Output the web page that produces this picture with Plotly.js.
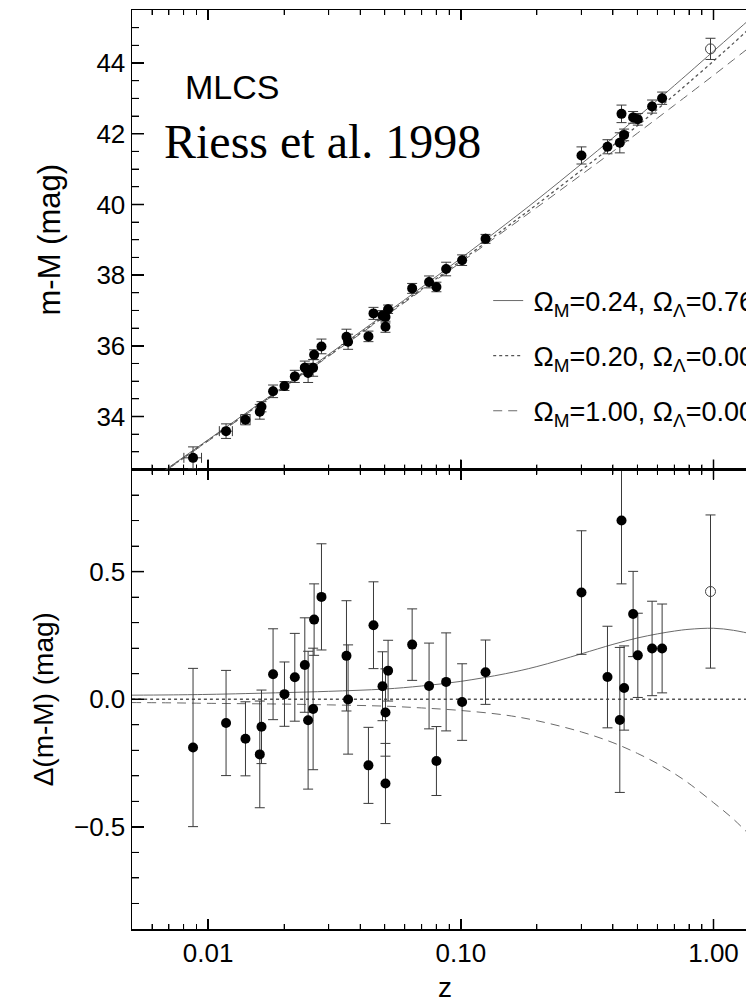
<!DOCTYPE html>
<html>
<head>
<meta charset="utf-8">
<script src="https://cdn.plot.ly/plotly-3.0.1.min.js"></script>
<style>
html,body{margin:0;padding:0;overflow:hidden;background:#fff;}
#chart{width:780px;height:1003px;}
</style>
</head>
<body>
<div id="chart"></div>
<script>
// Supernova data (filled circles)
const z = [0.00872, 0.01178, 0.01406, 0.01602, 0.01627, 0.01808, 0.02006, 0.02204, 0.02414, 0.02488, 0.02604, 0.02628, 0.0281, 0.03529, 0.03581, 0.04311, 0.04514, 0.0490, 0.05035, 0.05035, 0.05156, 0.0642, 0.0749, 0.0801, 0.0875, 0.1012, 0.1253, 0.3003, 0.3806, 0.4258, 0.4325, 0.4429, 0.4807, 0.5018, 0.5715, 0.6261];
const mu = [32.83, 33.585, 33.909, 34.133, 34.275, 34.712, 34.862, 35.134, 35.382, 35.232, 35.376, 35.746, 35.982, 36.253, 36.114, 36.266, 36.917, 36.86, 36.817, 36.539, 37.034, 37.624, 37.807, 37.664, 38.172, 38.422, 39.025, 41.385, 41.631, 41.742, 42.562, 41.966, 42.462, 42.408, 42.768, 43.004];
const dmu = [-0.189, -0.093, -0.155, -0.216, -0.108, 0.098, 0.020, 0.086, 0.134, -0.082, -0.038, 0.312, 0.401, 0.170, -0.001, -0.259, 0.290, 0.051, -0.052, -0.330, 0.112, 0.214, 0.052, -0.242, 0.068, -0.011, 0.106, 0.418, 0.087, -0.081, 0.700, 0.044, 0.334, 0.172, 0.199, 0.199];
const muErr = [0.31, 0.206, 0.145, 0.209, 0.144, 0.178, 0.126, 0.172, 0.185, 0.27, 0.238, 0.14, 0.208, 0.216, 0.214, 0.149, 0.17, 0.135, 0.171, 0.157, 0.119, 0.14, 0.168, 0.135, 0.192, 0.15, 0.126, 0.242, 0.199, 0.284, 0.248, 0.165, 0.167, 0.165, 0.185, 0.174];
const zErr = [0.0007, 0.0007, 0.0006, 0, 0, 0, 0, 0, 0, 0, 0, 0, 0, 0, 0, 0, 0, 0, 0, 0, 0, 0, 0, 0, 0, 0, 0, 0, 0, 0, 0, 0, 0, 0, 0, 0];

// Open circle point
const zOpen = [0.973];
const muOpen1 = [44.40];
const dmuOpen1 = [0.422];
const errOpen = [0.30];

// Model curves
const zc = [0.005, 0.007, 0.01, 0.02, 0.03, 0.05, 0.07, 0.1, 0.15, 0.2, 0.3, 0.4, 0.5, 0.6, 0.7, 0.8, 1.0, 1.2, 1.5];
const muLambda = [31.826, 32.560, 33.339, 34.861, 35.756, 36.893, 37.655, 38.475, 39.431, 40.127, 41.145, 41.883, 42.467, 42.950, 43.364, 43.725, 44.335, 44.833, 45.447];
const muOpen = [31.810, 32.543, 33.320, 34.835, 35.725, 36.853, 37.603, 38.405, 39.331, 39.999, 40.967, 41.668, 42.227, 42.694, 43.097, 43.451, 44.057, 44.563, 45.197];
const muFlat = [31.797, 32.529, 33.304, 34.816, 35.703, 36.826, 37.569, 38.361, 39.269, 39.915, 40.839, 41.498, 42.015, 42.442, 42.806, 43.121, 43.652, 44.093, 44.632];
const dLambda = [0.016, 0.017, 0.019, 0.026, 0.031, 0.040, 0.052, 0.070, 0.100, 0.128, 0.178, 0.215, 0.240, 0.256, 0.267, 0.274, 0.278, 0.270, 0.250];
const dOpen = [0, 0, 0, 0, 0, 0, 0, 0, 0, 0, 0, 0, 0, 0, 0, 0, 0, 0, 0];
const dFlat = [-0.013, -0.014, -0.016, -0.019, -0.022, -0.027, -0.034, -0.044, -0.062, -0.084, -0.128, -0.170, -0.212, -0.252, -0.291, -0.330, -0.405, -0.470, -0.565];

const names = ['\u2009Ω<sub>M</sub>=0.24, Ω<sub>Λ</sub>=0.76', '\u2009Ω<sub>M</sub>=0.20, Ω<sub>Λ</sub>=0.00', '\u2009Ω<sub>M</sub>=1.00, Ω<sub>Λ</sub>=0.00'];

// Tick positions (axis decoration)
const xMajorTicks = [0.01, 0.1, 1];
const xMinorTicks = [0.006, 0.007, 0.008, 0.009, 0.02, 0.03, 0.04, 0.05, 0.06, 0.07, 0.08, 0.09, 0.2, 0.3, 0.4, 0.5, 0.6, 0.7, 0.8, 0.9];
const yTopMajor = [34, 36, 38, 40, 42, 44];
const yTopMinor = [33, 33.5, 34.5, 35, 35.5, 36.5, 37, 37.5, 38.5, 39, 39.5, 40.5, 41, 41.5, 42.5, 43, 43.5, 44.5, 45];
const yBotMajor = [-0.5, 0, 0.5];
const yBotMinor = [-0.8, -0.7, -0.6, -0.4, -0.3, -0.2, -0.1, 0.1, 0.2, 0.3, 0.4, 0.6, 0.7, 0.8];

const lineCol = '#6a6a6a';
function errStyle(arr) { return {type:'data', array:arr, color:'#3a3a3a', thickness:1, width:5}; }
function lineStyle(i) {
  return [
    {color:lineCol, width:1, shape:'spline'},
    {color:'#555', width:1.3, dash:'dot', shape:'spline'},
    {color:lineCol, width:1, dash:'9px,6px', shape:'spline'}
  ][i];
}

const traces = [];
[muLambda, muOpen, muFlat].forEach((ys, i) => {
  traces.push({x:zc, y:ys, xaxis:'x2', yaxis:'y2', mode:'lines', name:names[i], legendgroup:'g'+i, line:lineStyle(i), hoverinfo:'skip'});
});
traces.push({x:z, y:mu, xaxis:'x2', yaxis:'y2', mode:'markers', showlegend:false,
  marker:{color:'#000', size:10}, error_y:errStyle(muErr), error_x:errStyle(zErr)});
traces.push({x:zOpen, y:muOpen1, xaxis:'x2', yaxis:'y2', mode:'markers', showlegend:false,
  marker:{symbol:'circle-open', color:'#444', size:10, line:{width:1}}, error_y:errStyle(errOpen)});
[dLambda, dOpen, dFlat].forEach((ys, i) => {
  traces.push({x:zc, y:ys, xaxis:'x', yaxis:'y', mode:'lines', showlegend:false, line:lineStyle(i), hoverinfo:'skip'});
});
traces.push({x:z, y:dmu, xaxis:'x', yaxis:'y', mode:'markers', showlegend:false,
  marker:{color:'#000', size:10}, error_y:errStyle(muErr)});
traces.push({x:zOpen, y:dmuOpen1, xaxis:'x', yaxis:'y', mode:'markers', showlegend:false,
  marker:{symbol:'circle-open', color:'#444', size:10, line:{width:1}}, error_y:errStyle(errOpen)});

const W = 780, H = 1003, M = {l:132, r:22, t:10, b:74};
const plotW = W - M.l - M.r, plotH = H - M.t - M.b;
const xRange = [Math.log10(0.005), Math.log10(1.5)];

// tick marks drawn as thin line shapes (inside, on every panel edge)
const shapes = [];
function xPaper(v) { return (Math.log10(v) - xRange[0]) / (xRange[1] - xRange[0]); }
function addXTicks(vals, lenPx, w) {
  const len = lenPx / plotH;
  vals.forEach(v => {
    const xp = xPaper(v);
    [[0, 1], [0.5, -1], [0.5, 1], [1, -1]].forEach(([edge, dir]) => {
      shapes.push({type:'line', xref:'paper', yref:'paper', x0:xp, x1:xp, y0:edge, y1:edge + dir * len,
        line:{color:'#000', width:w}, layer:'above'});
    });
  });
}
function addYTicks(vals, yref, lenPx, w) {
  const len = lenPx / plotW;
  vals.forEach(v => {
    shapes.push({type:'line', xref:'paper', yref:yref, x0:0, x1:len, y0:v, y1:v, line:{color:'#000', width:w}, layer:'above'});
    shapes.push({type:'line', xref:'paper', yref:yref, x0:1, x1:1 - len, y0:v, y1:v, line:{color:'#000', width:w}, layer:'above'});
  });
}
addXTicks(xMajorTicks, 10, 1.5);
addXTicks(xMinorTicks, 5, 1);
addYTicks(yTopMajor, 'y2', 12, 1.5);
addYTicks(yTopMinor, 'y2', 7, 1);
addYTicks(yBotMajor, 'y', 12, 1.5);
addYTicks(yBotMinor, 'y', 7, 1);

const fam = '"Liberation Sans", Arial, Helvetica, sans-serif';
function f(size) { return {family:fam, color:'#000', size:size}; }
function xAxis(extra) {
  return Object.assign({
    type:'log', range:xRange.slice(),
    tickmode:'linear', tick0:0, dtick:1, tickformat:'.2f',
    ticks:'inside', ticklen:10, tickwidth:1.5, tickcolor:'#000',
    minor:{dtick:'D1', ticks:'inside', ticklen:5, tickwidth:1, tickcolor:'#000'},
    showline:true, linecolor:'#000', linewidth:1.5, mirror:'allticks',
    showgrid:false, zeroline:false, tickfont:f(26)
  }, extra);
}
function yAxis(extra) {
  return Object.assign({
    tickmode:'linear', tick0:0, ticks:'inside', ticklen:12, tickwidth:1.5, tickcolor:'#000',
    showline:true, linecolor:'#000', linewidth:1.5, mirror:'allticks', showgrid:false, zeroline:false,
    tickfont:f(26)
  }, extra);
}
const layout = {
  width:W, height:H,
  margin:M,
  font:f(26),
  showlegend:true,
  legend:{x:0.569, y:0.71, xanchor:'left', yanchor:'top', bgcolor:'rgba(0,0,0,0)',
    font:f(27), itemwidth:30, tracegroupgap:17},
  xaxis:xAxis({anchor:'y', domain:[0,1], title:{text:'z', font:f(28), standoff:16}}),
  xaxis2:xAxis({anchor:'y2', matches:'x', showticklabels:false}),
  yaxis:yAxis({domain:[0,0.5], range:[-0.9,0.9], dtick:0.5, tickformat:'.1f',
    minor:{dtick:0.1, tick0:0, ticks:'inside', ticklen:7, tickwidth:1, tickcolor:'#000'},
    title:{text:'Δ(m-M) (mag)', font:f(28), standoff:12}}),
  yaxis2:yAxis({domain:[0.5,1], range:[32.5,45.5], dtick:2,
    minor:{dtick:0.5, tick0:0, ticks:'inside', ticklen:7, tickwidth:1, tickcolor:'#000'},
    title:{text:'m-M (mag)', font:f(31), standoff:26}}),
  shapes:shapes,
  annotations:[
    {text:'MLCS', xref:'paper', yref:'paper', x:0.082, y:0.916, xanchor:'left', yanchor:'middle', showarrow:false,
      font:f(34)},
    {text:'Riess et al. 1998', xref:'paper', yref:'paper', x:0.048, y:0.857, xanchor:'left', yanchor:'middle', showarrow:false,
      font:{family:'"Liberation Serif", "Times New Roman", serif', size:48, color:'#000'}}
  ]
};
Plotly.newPlot('chart', traces, layout, {displayModeBar:false, staticPlot:true});
</script>
</body>
</html>
